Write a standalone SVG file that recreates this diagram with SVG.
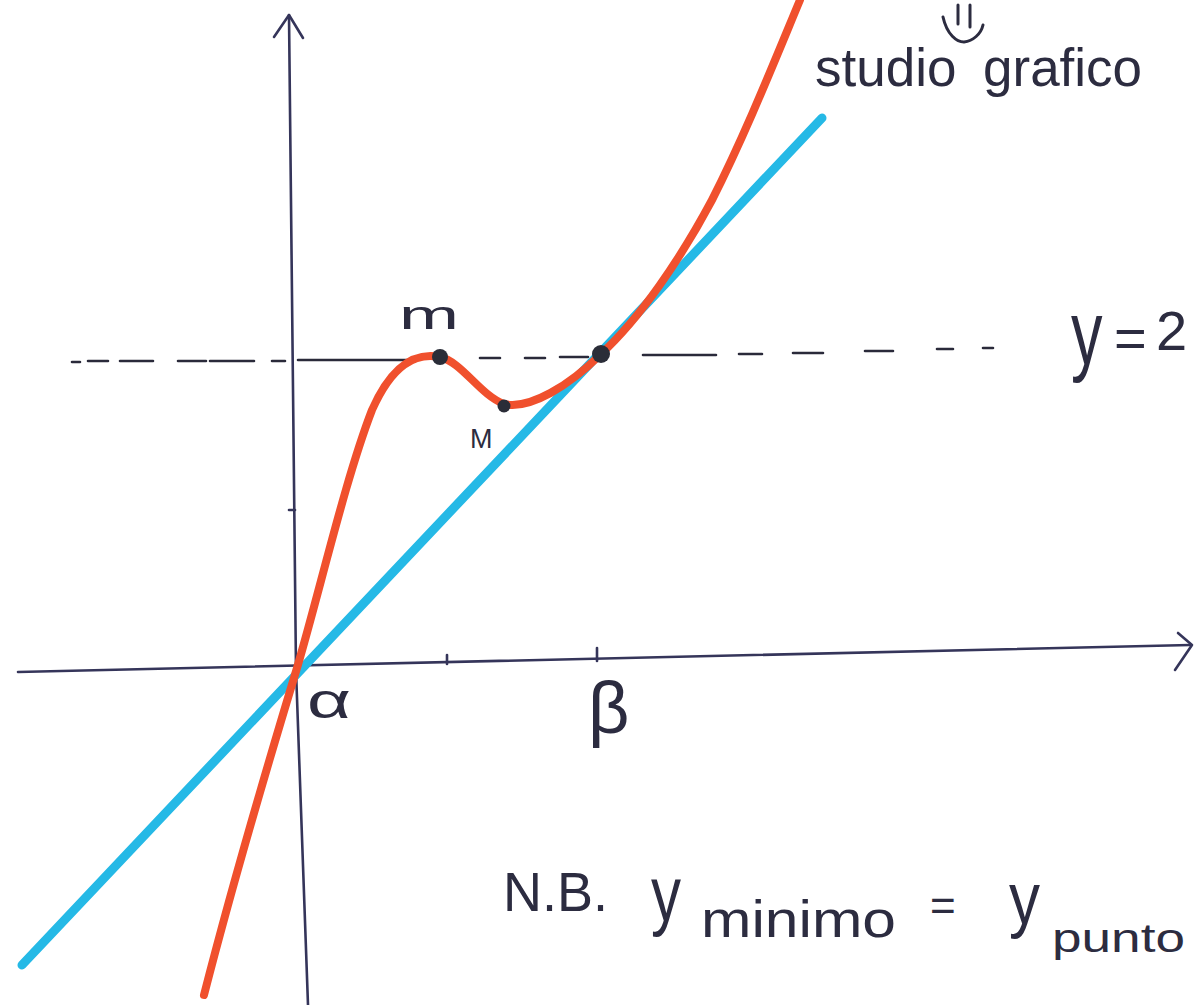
<svg xmlns="http://www.w3.org/2000/svg" width="1195" height="1005" viewBox="0 0 1195 1005">
<style>
.ax{fill:none;stroke:#35355a;stroke-width:2.6;stroke-linecap:round;stroke-linejoin:round}
.dash{fill:none;stroke:#2a2a3a;stroke-width:2.6;stroke-linecap:round}
.red{fill:none;stroke:#f0502d;stroke-width:8;stroke-linecap:round;stroke-linejoin:round}
.blue{fill:none;stroke:#25b9e6;stroke-width:9;stroke-linecap:round}
.pt{fill:#2a2d38}
.t{font-family:"Liberation Sans",Arial,sans-serif;fill:#2c2c40}
</style>
<rect width="1195" height="1005" fill="#ffffff"/>
<g id="connectors">
<g id="y-axis">
<polyline class="ax" points="289,15 296,670 308,1005"/>
<polyline class="ax" points="274,37 289,15 303,38"/>
<line class="ax" x1="289" y1="510" x2="295" y2="510"/>
</g>
<g id="x-axis">
<polyline class="ax" points="18,672 1190,645"/>
<polyline class="ax" points="1178,633 1192,645 1175,670"/>
<line class="ax" x1="447" y1="655" x2="447" y2="664"/>
<line class="ax" x1="597" y1="648" x2="597" y2="661"/>
</g>
<path id="y2-line" class="dash" d="M72,362H80M88,361H108M120,361H153M178,361H206M210,361H254M272,361H285M298,360H410M480,358H500M525,358H545M560,357H588M643,355H716M739,354H762M793,353H823M865,351H893M937,349H953M983,348H993"/>
<line id="tangent" class="blue" x1="22" y1="965" x2="822" y2="118"/>
<path id="curve" class="red" d="M204,995 C222,925 260,790 297,668 C320,590 345,480 372,410 C392,365 415,352 440,357 C462,362 480,395 504,404 C530,410 570,385 601,354 C640,318 680,260 712,200 C745,135 775,60 800,0"/>
</g>
<g id="point-m"><circle class="pt" cx="440" cy="357" r="8"/><text class="t" x="399" y="329" font-size="40" textLength="60" lengthAdjust="spacingAndGlyphs">m</text></g>
<g id="point-M"><circle class="pt" cx="504" cy="406" r="6.5"/><text class="t" x="470" y="448" font-size="27">M</text></g>
<g id="point-beta"><circle class="pt" cx="601" cy="354" r="9"/></g>
<g id="label-alpha"><text class="t" x="307" y="718" font-size="50" textLength="44" lengthAdjust="spacingAndGlyphs">α</text></g>
<g id="label-beta"><text class="t" x="588" y="733" font-size="72">β</text></g>
<g id="label-y2"><text class="t" font-size="60" transform="translate(1071,364) scale(1.05,1.5)">y</text><text class="t" x="1114" y="357" font-size="56">=</text><text class="t" x="1156" y="350" font-size="56">2</text></g>
<g id="title">
<text class="t" x="815" y="86" font-size="53">studio</text>
<path fill="none" stroke="#2c2c40" stroke-width="3" stroke-linecap="round" d="M943,17 C947,35 957,42 964,42 C973,41 981,34 983,25 M958,5 L958,24 M970,5 L970,27"/>
<text class="t" x="983" y="86" font-size="53">grafico</text>
</g>
<g id="note">
<text class="t" x="503" y="911" font-size="56" textLength="105" lengthAdjust="spacingAndGlyphs">N.B.</text>
<text class="t" font-size="60" transform="translate(651,921) scale(1,1.3)">y</text>
<text class="t" x="701" y="937" font-size="52" textLength="195" lengthAdjust="spacingAndGlyphs">minimo</text>
<text class="t" x="930" y="921" font-size="44">=</text>
<text class="t" font-size="62" transform="translate(1009,924) scale(1,1.2)">y</text>
<text class="t" x="1052" y="952" font-size="40" textLength="133" lengthAdjust="spacingAndGlyphs">punto</text>
</g>
</svg>
